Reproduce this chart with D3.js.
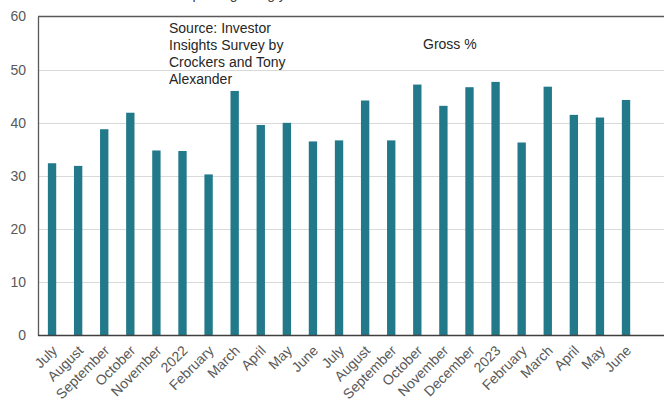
<!DOCTYPE html>
<html>
<head>
<meta charset="utf-8">
<script src="https://cdn.jsdelivr.net/npm/d3@7"></script>
<style>
  html, body { margin: 0; padding: 0; background: #fff; }
  svg { display: block; font-family: "Liberation Sans", Arial, sans-serif; }
</style>
</head>
<body>
<svg id="chart" width="664" height="405"></svg>
<script>
// Monthly gross yield expectations, July 2021 to June 2023
const categories = ["July", "August", "September", "October", "November", "2022",
  "February", "March", "April", "May", "June", "July", "August", "September",
  "October", "November", "December", "2023", "February", "March", "April", "May", "June"];
const grossValues = [32.4, 31.9, 38.8, 41.9, 34.8, 34.7, 30.3, 46.0, 39.6, 40.0, 36.5,
  36.7, 44.2, 36.7, 47.2, 43.2, 46.7, 47.7, 36.3, 46.8, 41.5, 41.0, 44.3];
const yTicks = [0, 10, 20, 30, 40, 50, 60];
const sourceLines = ["Source: Investor", "Insights Survey by", "Crockers and Tony", "Alexander"];
const seriesName = "Gross %";
const titleText = "Investors expecting rising yields";

const svg = d3.select("#chart");
const plotLeft = 38, plotRight = 664, plotTop = 16.5, plotBottom = 335.5;
const keys = categories.map((c, i) => i);

const x = d3.scaleBand().domain(keys).range([39, 39 + 26.09 * categories.length])
  .paddingInner(0.68).paddingOuter(0.34);
const y = d3.scaleLinear().domain([0, 60]).range([plotBottom, plotTop]);

// heading sits above the top edge of the page, only its descenders show
svg.append("text").attr("x", 117).attr("y", -1)
  .attr("font-size", 14).attr("fill", "#404040").text(titleText);

// gridlines
svg.append("g").selectAll("line").data(yTicks.filter(t => t > 0 && t < 60)).join("line")
  .attr("x1", plotLeft).attr("x2", plotRight)
  .attr("y1", d => Math.round(y(d)) + 0.5).attr("y2", d => Math.round(y(d)) + 0.5)
  .attr("stroke", "#d9d9d9").attr("stroke-width", 1);

// bars
svg.append("g").selectAll("rect").data(grossValues).join("rect")
  .attr("x", (d, i) => x(i))
  .attr("y", d => y(d))
  .attr("width", x.bandwidth())
  .attr("height", d => y(0) - y(d))
  .attr("fill", "#22798a");

// left axis
const yAxis = d3.axisLeft(y).tickValues(yTicks).tickSize(0).tickPadding(12);
const ya = svg.append("g").attr("transform", `translate(${plotLeft},0)`).call(yAxis);
ya.select(".domain").attr("stroke", "#595959").attr("stroke-width", 1.3);
ya.selectAll("text").attr("font-size", 14).attr("fill", "#595959")
  .attr("font-family", "'Liberation Sans', Arial, sans-serif");

// top border and baseline
svg.append("line").attr("x1", plotLeft).attr("x2", plotRight).attr("y1", plotTop).attr("y2", plotTop)
  .attr("stroke", "#595959").attr("stroke-width", 1.3);
svg.append("line").attr("x1", plotLeft).attr("x2", plotRight).attr("y1", plotBottom).attr("y2", plotBottom)
  .attr("stroke", "#404040").attr("stroke-width", 1.3);

// category labels
const xAxis = d3.axisBottom(x).tickFormat(i => categories[i]).tickSize(0).tickPadding(0);
const xa = svg.append("g").attr("transform", `translate(0,${plotBottom})`).call(xAxis);
xa.select(".domain").remove();
xa.selectAll("text")
  .attr("font-size", 14).attr("fill", "#595959")
  .attr("font-family", "'Liberation Sans', Arial, sans-serif")
  .attr("text-anchor", "end")
  .attr("dy", null)
  .attr("transform", "translate(6,16) rotate(-45)");

// source note
svg.append("text").attr("x", 169).attr("y", 32.5).attr("font-size", 14).attr("fill", "#262626")
  .selectAll("tspan").data(sourceLines).join("tspan")
  .attr("x", 169).attr("dy", (d, i) => i === 0 ? 0 : 17).text(d => d);

// series label
svg.append("text").attr("x", 423).attr("y", 48.5).attr("font-size", 14).attr("fill", "#262626")
  .text(seriesName);
</script>
</body>
</html>
